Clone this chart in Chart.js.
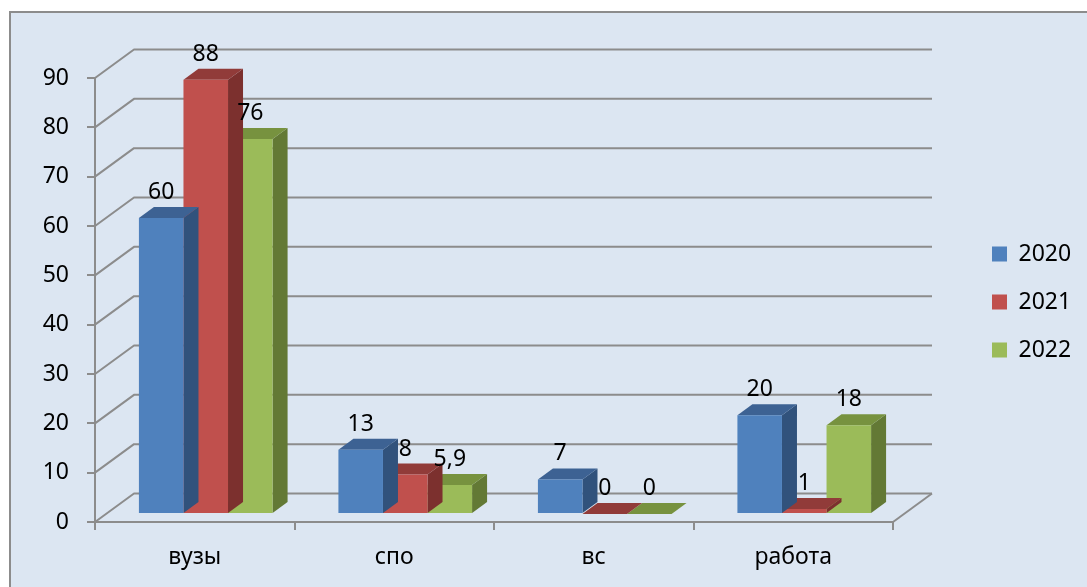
<!DOCTYPE html>
<html><head><meta charset="utf-8">
<script src="https://cdn.jsdelivr.net/npm/chart.js@4.4.0/dist/chart.umd.min.js"></script>
<style>
html,body{margin:0;padding:0;background:#fff;overflow:hidden;}
#frame{position:absolute;left:9px;top:11px;width:1078px;height:576px;box-sizing:border-box;border-left:2px solid #8c8c8c;border-top:2px solid #8c8c8c;background:#dce6f2;}
#c{position:absolute;left:0;top:0;}
</style></head><body>
<div id="frame"></div>
<canvas id="c" width="1087" height="587"></canvas>
<script>
// ---- data ----
const categories = ['вузы', 'спо', 'вс', 'работа'];
const seriesNames = ['2020', '2021', '2022'];
const values2020 = [60, 13, 7, 20];
const values2021 = [88, 8, 0, 1];
const values2022 = [76, 5.9, 0, 18];
const yTickLabels = ['0', '10', '20', '30', '40', '50', '60', '70', '80', '90'];

// ---- styles ----
const frontColors = ['#4F81BD', '#C0504D', '#9BBB59'];
const topColors = ['#3D6293', '#913B39', '#77923F'];
const sideColors = ['#31527C', '#7C302E', '#637935'];
const gridColor = '#8c8c8c';
const FONT = "'Noto Sans', sans-serif";
const FSIZE = 23;
const WALL_DX = 39, WALL_DY = -28.5;   // depth of back wall
const BAR_SX = 11, BAR_SY = -8;         // bars placed into depth
const BAR_DX = 15, BAR_DY = -11;        // bar thickness (depth)

Chart.defaults.font.family = FONT;
Chart.defaults.color = '#000';

const wall3d = {
  id: 'wall3d',
  beforeDatasetsDraw(chart) {
    const ctx = chart.ctx, ys = chart.scales.y, a = chart.chartArea;
    ctx.save();
    ctx.strokeStyle = gridColor;
    ctx.lineWidth = 2;
    ctx.lineJoin = 'round';
    ys.ticks.forEach(t => {
      const yf = ys.getPixelForValue(t.value);
      ctx.beginPath();
      ctx.moveTo(a.left, yf);
      ctx.lineTo(a.left + WALL_DX, yf + WALL_DY);
      ctx.lineTo(a.right + WALL_DX, yf + WALL_DY);
      ctx.stroke();
    });
    const y0 = ys.getPixelForValue(0);
    ctx.beginPath();
    ctx.moveTo(a.right, y0);
    ctx.lineTo(a.right + WALL_DX, y0 + WALL_DY);
    ctx.stroke();
    ctx.restore();
  },
  beforeDatasetDraw(chart, args) {
    const ctx = chart.ctx, i = args.index;
    ctx.save();
    ctx.translate(BAR_SX, BAR_SY);
    args.meta.data.forEach(el => {
      const p = el.getProps(['x', 'y', 'base', 'width'], true);
      const l = p.x - p.width / 2, r = p.x + p.width / 2;
      const top = Math.min(p.y, p.base), bot = Math.max(p.y, p.base);
      ctx.fillStyle = sideColors[i];
      ctx.beginPath();
      ctx.moveTo(r, top); ctx.lineTo(r + BAR_DX, top + BAR_DY);
      ctx.lineTo(r + BAR_DX, bot + BAR_DY); ctx.lineTo(r, bot);
      ctx.closePath(); ctx.fill();
      ctx.fillStyle = topColors[i];
      ctx.beginPath();
      ctx.moveTo(l, top); ctx.lineTo(r, top);
      ctx.lineTo(r + BAR_DX, top + BAR_DY); ctx.lineTo(l + BAR_DX, top + BAR_DY);
      ctx.closePath(); ctx.fill();
    });
  },
  afterDatasetDraw(chart) {
    chart.ctx.restore();
  },
  afterDatasetsDraw(chart) {
    const ctx = chart.ctx;
    ctx.save();
    ctx.fillStyle = '#000';
    ctx.font = FSIZE + 'px ' + FONT;
    ctx.textAlign = 'center';
    ctx.textBaseline = 'alphabetic';
    chart.data.datasets.forEach((ds, i) => {
      chart.getDatasetMeta(i).data.forEach((el, j) => {
        const p = el.getProps(['x', 'y', 'base'], true);
        const top = Math.min(p.y, p.base);
        ctx.fillText(String(ds.data[j]).replace('.', ','), p.x + BAR_SX, top + BAR_SY - 19);
      });
    });
    ctx.restore();
  }
};

const legendPlace = {
  id: 'legendPlace',
  beforeLayout(chart) {
    const L = chart.legend;
    if (L && !L.__patched) {
      const f = L.fit;
      L.fit = function () { f.call(this); this.width = 194; };
      L.__patched = true;
    }
  },
  afterLayout(chart) {
    const L = chart.legend;
    if (!L) return;
    L.left = 967; L.right = 1087; L.width = 120;
    L.top = 17; L.bottom = 587; L.height = 570;
  }
};

new Chart(document.getElementById('c'), {
  type: 'bar',
  data: {
    labels: categories,
    datasets: [
      { label: seriesNames[0], data: values2020, backgroundColor: frontColors[0] },
      { label: seriesNames[1], data: values2021, backgroundColor: frontColors[1] },
      { label: seriesNames[2], data: values2022, backgroundColor: frontColors[2] }
    ]
  },
  options: {
    responsive: false,
    animation: false,
    devicePixelRatio: 1,
    datasets: { bar: { categoryPercentage: 0.67, barPercentage: 1, borderWidth: 0, clip: false } },
    layout: { padding: { top: 78, left: 0, right: 0, bottom: 0 } },
    plugins: {
      legend: {
        position: 'right',
        labels: { boxWidth: 15, boxHeight: 15, padding: 25, color: '#000', font: { size: FSIZE, family: FONT } }
      },
      tooltip: { enabled: false }
    },
    scales: {
      x: {
        grid: { offset: true, drawOnChartArea: false, drawTicks: true, tickLength: 8, color: gridColor, lineWidth: 2 },
        border: { display: true, color: gridColor, width: 2 },
        ticks: { padding: 14, color: '#000', font: { size: FSIZE, family: FONT } },
        afterFit(s) { s.height = 65; }
      },
      y: {
        min: 0, max: 90,
        grid: { drawOnChartArea: false, drawTicks: true, tickLength: 8, color: gridColor, lineWidth: 2 },
        border: { display: true, color: gridColor, width: 2 },
        ticks: { stepSize: 10, padding: 18, color: '#000', font: { size: FSIZE, family: FONT },
                 callback: (v, i) => yTickLabels[i] },
        afterFit(s) { s.width = 95; }
      }
    }
  },
  plugins: [wall3d, legendPlace]
});
</script>
</body></html>
